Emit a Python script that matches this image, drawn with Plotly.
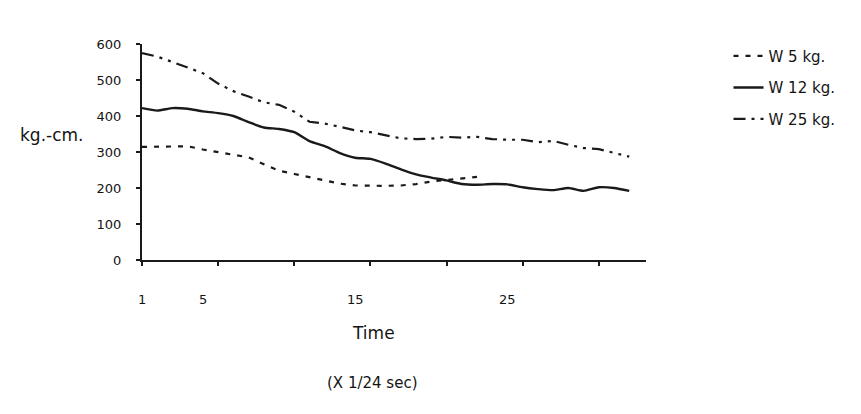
import plotly.graph_objects as go

# ---- data ----
time_x = list(range(1, 34))
w12 = [422, 415, 422, 420, 413, 408, 400, 383, 368, 364, 355, 330, 316, 297, 284,
       281, 268, 252, 238, 229, 221, 211, 209, 211, 210, 202, 197, 194, 200, 192,
       202, 200, 192]
w5_x = list(range(1, 24))
w5 = [314, 314, 314, 316, 307, 299, 291, 285, 266, 248, 239, 230, 219, 212, 207,
      206, 206, 207, 211, 218, 222, 226, 231]
w25 = [575, 565, 550, 535, 519, 490, 469, 454, 438, 431, 412, 384, 379, 370, 360,
       355, 346, 338, 336, 337, 342, 340, 342, 336, 334, 334, 327, 331, 320, 311,
       308, 298, 287]

y_ticks = [0, 100, 200, 300, 400, 500, 600]
x_tick_marks = [1, 6, 11, 16, 21, 26, 31]
x_tick_labels = [1, 5, 15, 25]

ink = "#1a1a1a"
txt = "#141414"
font_family = "DejaVu Sans, Liberation Sans, Arial, sans-serif"

fig = go.Figure()
fig.add_trace(go.Scatter(x=w5_x, y=w5, mode="lines", name="W 5 kg.",
                         legendgroup="a",
                         line=dict(color=ink, width=2.2, dash="5px,7px")))
fig.add_trace(go.Scatter(x=time_x, y=w12, mode="lines", name="W 12 kg.",
                         legendgroup="b",
                         line=dict(color=ink, width=2.4, shape="spline", smoothing=0.6)))
fig.add_trace(go.Scatter(x=time_x, y=w25, mode="lines", name="W 25 kg.",
                         legendgroup="c",
                         line=dict(color=ink, width=2.2,
                                   dash="12px,6px,3px,6px,3px,6px")))

annotations = []
for v in x_tick_labels:
    annotations.append(dict(x=v, y=-0.185, xref="x", yref="paper", text=str(v),
                            showarrow=False, font=dict(size=13, color=txt),
                            xanchor="center", yanchor="middle"))
annotations += [
    dict(x=-0.179, y=0.579, xref="paper", yref="paper", text="kg.-cm.",
         showarrow=False, font=dict(size=17, color=txt),
         xanchor="center", yanchor="middle"),
    dict(x=0.46, y=-0.338, xref="paper", yref="paper", text="Time",
         showarrow=False, font=dict(size=17, color=txt),
         xanchor="center", yanchor="middle"),
    dict(x=0.457, y=-0.569, xref="paper", yref="paper", text="(X 1/24 sec)",
         showarrow=False, font=dict(size=15, color=txt),
         xanchor="center", yanchor="middle"),
]

fig.update_layout(
    width=845, height=398,
    margin=dict(l=134, r=198, t=36, b=146),
    paper_bgcolor="white", plot_bgcolor="white",
    font=dict(family=font_family, color=txt),
    showlegend=True,
    legend=dict(x=1.1637, y=1.02, xanchor="left", yanchor="top",
                font=dict(size=15, color=txt), tracegroupgap=9,
                bgcolor="rgba(0,0,0,0)", borderwidth=0),
    annotations=annotations,
    xaxis=dict(range=[1, 34.1], showgrid=False, zeroline=False,
               showline=True, linecolor=ink, linewidth=2,
               tickmode="array", tickvals=x_tick_marks, showticklabels=False,
               ticks="outside", ticklen=4, tickwidth=2, tickcolor=ink),
    yaxis=dict(range=[0, 600], showgrid=False, zeroline=False,
               showline=True, linecolor=ink, linewidth=2,
               tickmode="array", tickvals=y_ticks,
               ticks="outside", ticklen=4, tickwidth=2, tickcolor=ink,
               ticklabelstandoff=12,
               tickfont=dict(size=13, color=txt)),
)

fig.write_html("out.html")
